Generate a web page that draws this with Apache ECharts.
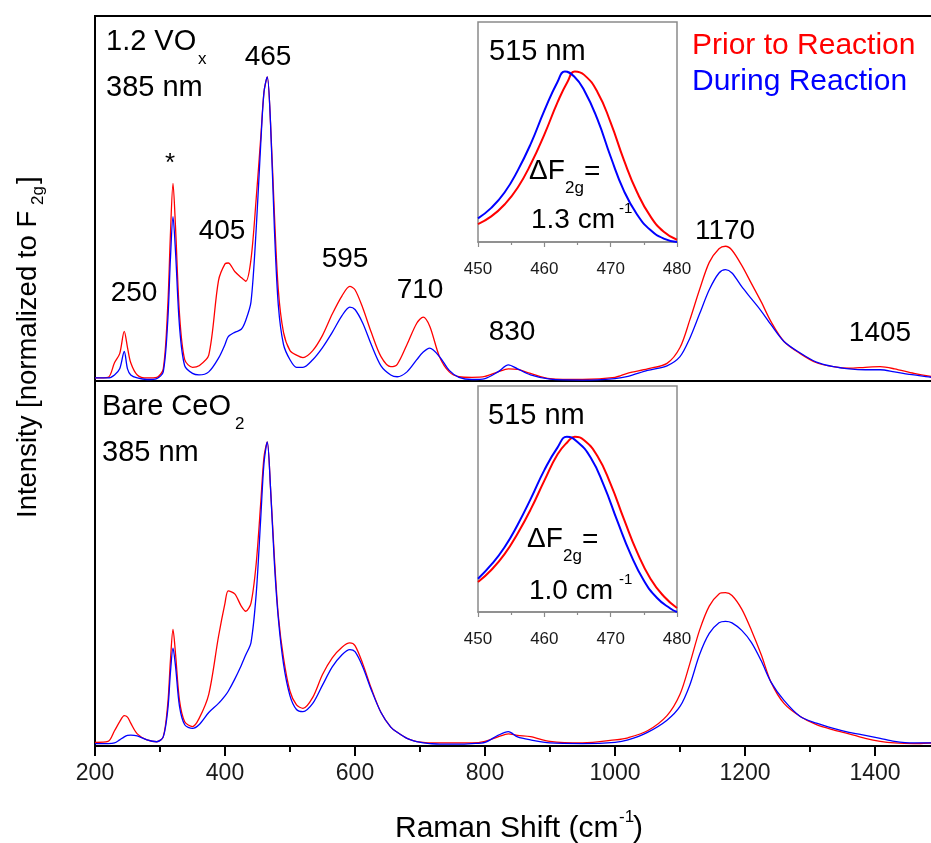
<!DOCTYPE html>
<html><head><meta charset="utf-8">
<script src="https://cdn.jsdelivr.net/npm/echarts/dist/echarts.min.js"></script>
<style>html,body{margin:0;padding:0;background:#fff}#c{width:931px;height:843px}</style>
</head><body><div id="c"></div>
<script>
// Raman shift (cm-1) sample positions shared by the main panels
const shiftX = [200,220,230,238,245,250,255,265,280,295, 305,312,316,320,324,330,338,350,360,375,
  390,400,405,415,425,432,440,448,455,460, 465,470,476,482,490,500,510,520,535,550,
  565,580,592,600,612,625,640,655,665,680, 695,705,715,730,745,760,780,800,820,836,
  850,870,900,950,1000,1020,1050,1080,1100,1115, 1130,1145,1160,1170,1180,1195,1210,1225,1240,1260,
  1285,1310,1336,1360,1385,1408,1430,1460,1490,1500];
// 1.2 VOx panel
const voxPrior = [0.01,0.012,0.06,0.09,0.163,0.11,0.06,0.02,0.01,0.012,
  0.04,0.25,0.48,0.65,0.5,0.22,0.07,0.045,0.05,0.085,
  0.33,0.385,0.388,0.36,0.34,0.328,0.40,0.6,0.8,0.95,
  1.0,0.85,0.55,0.3,0.16,0.1,0.085,0.077,0.1,0.15,
  0.22,0.28,0.311,0.3,0.24,0.16,0.08,0.047,0.055,0.12,
  0.19,0.21,0.18,0.08,0.03,0.014,0.012,0.015,0.03,0.04,
  0.038,0.025,0.008,0.005,0.012,0.026,0.04,0.058,0.11,0.2,
  0.3,0.39,0.435,0.443,0.43,0.38,0.32,0.26,0.195,0.13,
  0.09,0.06,0.047,0.042,0.045,0.047,0.04,0.025,0.014,0.012];
const voxDuring = [0.01,0.01,0.02,0.04,0.097,0.04,0.02,0.01,0.005,0.008,
  0.03,0.2,0.4,0.54,0.42,0.18,0.05,0.025,0.02,0.03,
  0.075,0.12,0.146,0.16,0.17,0.2,0.26,0.5,0.78,0.95,
  1.0,0.85,0.5,0.25,0.12,0.07,0.045,0.045,0.07,0.11,
  0.16,0.215,0.243,0.235,0.19,0.12,0.05,0.02,0.014,0.03,
  0.07,0.095,0.108,0.08,0.035,0.012,0.005,0.008,0.03,0.053,
  0.04,0.02,0.006,0.003,0.008,0.015,0.035,0.05,0.08,0.14,
  0.22,0.3,0.355,0.366,0.355,0.31,0.27,0.23,0.185,0.13,
  0.092,0.062,0.047,0.04,0.037,0.037,0.03,0.02,0.012,0.012];
// Bare CeO2 panel
const barePrior = [0.012,0.015,0.05,0.08,0.1,0.095,0.075,0.04,0.02,0.014,
  0.03,0.14,0.28,0.383,0.3,0.15,0.08,0.064,0.09,0.17,
  0.36,0.47,0.51,0.5,0.46,0.443,0.47,0.6,0.8,0.95,
  1.0,0.85,0.62,0.43,0.29,0.18,0.135,0.124,0.16,0.235,
  0.29,0.325,0.339,0.33,0.27,0.19,0.11,0.062,0.045,0.025,
  0.014,0.012,0.01,0.01,0.01,0.01,0.01,0.015,0.03,0.04,
  0.035,0.031,0.015,0.01,0.02,0.027,0.05,0.1,0.17,0.27,
  0.38,0.46,0.5,0.504,0.495,0.45,0.38,0.3,0.21,0.14,
  0.097,0.07,0.053,0.04,0.025,0.015,0.01,0.008,0.01,0.01];
const bareDuring = [0.008,0.008,0.01,0.02,0.03,0.035,0.036,0.033,0.02,0.014,
  0.03,0.12,0.24,0.322,0.26,0.13,0.07,0.058,0.07,0.11,
  0.14,0.165,0.18,0.22,0.265,0.3,0.34,0.5,0.75,0.93,
  1.0,0.85,0.6,0.42,0.27,0.165,0.12,0.113,0.14,0.2,
  0.26,0.3,0.317,0.31,0.26,0.185,0.11,0.062,0.045,0.025,
  0.014,0.01,0.008,0.006,0.006,0.006,0.008,0.012,0.035,0.047,
  0.03,0.02,0.01,0.008,0.012,0.02,0.045,0.085,0.13,0.2,
  0.3,0.37,0.405,0.41,0.405,0.38,0.34,0.28,0.21,0.15,
  0.097,0.075,0.058,0.045,0.035,0.025,0.015,0.01,0.01,0.01];
// Insets (515 nm, F2g band)
const inVoxPriorX  = [450,452,454,456,458,460,462,463.5,464.6,466,468,470,472,474,476,478,480];
const inVoxPriorY  = [0.105,0.15,0.22,0.32,0.46,0.63,0.82,0.94,1.0,0.98,0.88,0.70,0.48,0.29,0.15,0.06,0.013];
const inVoxDuringX = [450,452,454,456,458,460,462,463.1,464.5,466,468,470,472,474,476,478,480];
const inVoxDuringY = [0.139,0.2,0.29,0.42,0.58,0.77,0.94,1.0,0.97,0.89,0.72,0.5,0.3,0.16,0.07,0.02,0.0];
const inBarePriorX  = [450,452,454,456,458,460,462,463.5,464.6,466,468,470,472,474,476,478,480];
const inBarePriorY  = [0.171,0.24,0.33,0.45,0.59,0.75,0.9,0.97,1.0,0.98,0.89,0.73,0.53,0.34,0.19,0.09,0.023];
const inBareDuringX = [450,452,454,456,458,460,462,463.4,465,467,469,471,473,475,477,479,480];
const inBareDuringY = [0.19,0.27,0.37,0.5,0.65,0.81,0.94,1.0,0.97,0.88,0.72,0.52,0.33,0.18,0.08,0.02,0.0];

const RED = '#ff0000', BLUE = '#0000ff';
const FONT = '"Liberation Sans", Arial, sans-serif';
const pair = (xs, ys) => xs.map((x, i) => [x, ys[i]]);

const chart = echarts.init(document.getElementById('c'), null, {renderer: 'canvas'});

function T(text, x, y, size, o) {
  o = o || {};
  return {type: 'text', x: x, y: y, rotation: o.rot || 0, z: 100,
    style: {text: text, fill: o.color || '#000', font: size + 'px ' + FONT,
      textAlign: o.align || 'left', align: o.align || 'left',
      textVerticalAlign: 'middle', verticalAlign: 'middle'}};
}

const mainLine = (name, xi, data, color) => ({
  name: name, type: 'line', xAxisIndex: xi, yAxisIndex: xi, data: data,
  showSymbol: false, smooth: 0.3, lineStyle: {color: color, width: 1.3}, itemStyle: {color: color},
  z: 2, silent: true
});
const insetLine = (name, xi, data, color) => ({
  name: name, type: 'line', xAxisIndex: xi, yAxisIndex: xi, data: data,
  showSymbol: false, smooth: 0.5, lineStyle: {color: color, width: 2}, itemStyle: {color: color},
  z: 12, silent: true
});

const plain = v => String(v);
const mainX = (show) => ({
  type: 'value', min: 200, max: 1500, interval: 200,
  axisLine: {show: show, lineStyle: {color: '#000', width: 2}},
  axisTick: {show: show, length: 10, lineStyle: {color: '#000', width: 2}},
  minorTick: {show: show, splitNumber: 2, length: 6, lineStyle: {color: '#000', width: 2}},
  axisLabel: {show: show, fontSize: 23, color: '#1a1a1a', fontFamily: FONT, margin: 16, showMaxLabel: false, formatter: plain},
  splitLine: {show: false}, minorSplitLine: {show: false}
});
const insetX = () => ({
  type: 'value', min: 450, max: 480, interval: 10,
  axisLine: {show: true, lineStyle: {color: '#8a8a8a', width: 1.5}},
  axisTick: {show: true, length: 5, lineStyle: {color: '#8a8a8a', width: 1.2}},
  minorTick: {show: true, splitNumber: 2, length: 3, lineStyle: {color: '#8a8a8a', width: 1.2}},
  axisLabel: {show: true, fontSize: 17, color: '#1a1a1a', fontFamily: FONT, margin: 19, formatter: plain},
  splitLine: {show: false}, minorSplitLine: {show: false}
});
const hiddenY = (max) => ({type: 'value', min: 0, max: max, show: false, splitLine: {show: false}});

chart.setOption({
  animation: false,
  backgroundColor: '#fff',
  grid: [
    {left: 95, top: 16, width: 845, height: 365, show: true, borderColor: '#000', borderWidth: 2, backgroundColor: 'transparent', outerBoundsMode: 'none', containLabel: false},
    {left: 95, top: 381, width: 845, height: 365, show: true, borderColor: '#000', borderWidth: 2, backgroundColor: 'transparent', outerBoundsMode: 'none', containLabel: false},
    {left: 478, top: 22, width: 199, height: 220, show: true, borderColor: '#8a8a8a', borderWidth: 1.5, backgroundColor: '#fff', z: 10, outerBoundsMode: 'none', containLabel: false},
    {left: 478, top: 386, width: 199, height: 226, show: true, borderColor: '#8a8a8a', borderWidth: 1.5, backgroundColor: '#fff', z: 10, outerBoundsMode: 'none', containLabel: false}
  ],
  xAxis: [
    Object.assign(mainX(false), {gridIndex: 0}),
    Object.assign(mainX(true), {gridIndex: 1}),
    Object.assign(insetX(), {gridIndex: 2, z: 12}),
    Object.assign(insetX(), {gridIndex: 3, z: 12})
  ],
  yAxis: [
    Object.assign(hiddenY(1.2), {gridIndex: 0}),
    Object.assign(hiddenY(1.2), {gridIndex: 1}),
    Object.assign(hiddenY(1.29), {gridIndex: 2}),
    Object.assign(hiddenY(1.29), {gridIndex: 3})
  ],
  series: [
    mainLine('Prior to Reaction', 0, pair(shiftX, voxPrior), RED),
    mainLine('During Reaction', 0, pair(shiftX, voxDuring), BLUE),
    mainLine('Prior to Reaction', 1, pair(shiftX, barePrior), RED),
    mainLine('During Reaction', 1, pair(shiftX, bareDuring), BLUE),
    insetLine('Prior to Reaction', 2, pair(inVoxPriorX, inVoxPriorY), RED),
    insetLine('During Reaction', 2, pair(inVoxDuringX, inVoxDuringY), BLUE),
    insetLine('Prior to Reaction', 3, pair(inBarePriorX, inBarePriorY), RED),
    insetLine('During Reaction', 3, pair(inBareDuringX, inBareDuringY), BLUE)
  ],
  graphic: [
    T('1.2 VO', 106, 42, 29), T('x', 198, 59, 17),
    T('385 nm', 106, 88, 29),
    T('Bare CeO', 102, 407, 29), T('2', 235, 424, 17),
    T('385 nm', 102, 453, 29),
    T('Prior to Reaction', 692, 46, 30, {color: RED}),
    T('During Reaction', 692, 82, 30, {color: BLUE}),
    T('*', 170, 164, 26, {align: 'center'}),
    T('250', 134, 293, 28, {align: 'center'}),
    T('405', 222, 231, 28, {align: 'center'}),
    T('465', 268, 57, 28, {align: 'center'}),
    T('595', 345, 259, 28, {align: 'center'}),
    T('710', 420, 290, 28, {align: 'center'}),
    T('830', 512, 332, 28, {align: 'center'}),
    T('1170', 725, 231, 28, {align: 'center'}),
    T('1405', 880, 333, 28, {align: 'center'}),
    T('515 nm', 489, 52, 29),
    T('\u0394F', 529, 171, 28), T('2g', 565, 188, 17), T('=', 584, 172, 28),
    T('1.3 cm', 531, 220, 28), T('-1', 619, 209, 15),
    T('515 nm', 488, 416, 29),
    T('\u0394F', 527, 539, 28), T('2g', 563, 556, 17), T('=', 582, 540, 28),
    T('1.0 cm', 529, 591, 28), T('-1', 619, 580, 15),
    T('Raman Shift (cm', 395, 829, 30), T('-1', 619, 817, 17), T(')', 633, 829, 30),
    T('Intensity [normalized to F', 28, 518, 27.5, {rot: Math.PI / 2}),
    T('2g', 38, 205, 17, {rot: Math.PI / 2}),
    T(']', 28, 184, 27.5, {rot: Math.PI / 2})
  ]
});
</script></body></html>
